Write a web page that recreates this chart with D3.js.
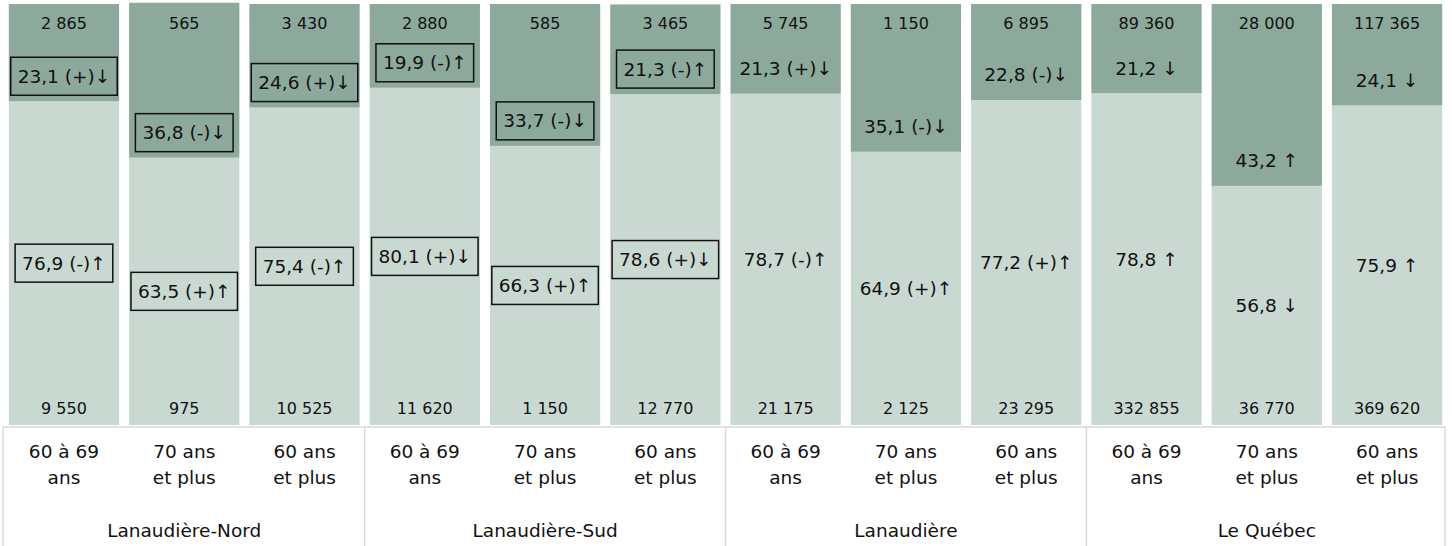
<!DOCTYPE html>
<html lang="fr">
<head>
    <meta charset="UTF-8">
    <title>Graphique</title>
    <script src="https://d3js.org/d3.v7.min.js"></script>
    <style>
        body, html {
            margin: 0;
            padding: 0;
            background: white;
        }
        svg text {
            font-family: "DejaVu Sans", sans-serif;
            fill: #111;
        }
    </style>
</head>
<body>
    <script>
        'use strict'

        // data
        const ageGroups = ['60 à 69|ans', '70 ans|et plus', '60 ans|et plus']
        const regions = ['Lanaudière-Nord', 'Lanaudière-Sud', 'Lanaudière', 'Le Québec']

        const countsTop = [2865, 565, 3430, 2880, 585, 3465, 5745, 1150, 6895, 89360, 28000, 117365]
        const countsBottom = [9550, 975, 10525, 11620, 1150, 12770, 21175, 2125, 23295, 332855, 36770, 369620]

        const pctTop = [23.1, 36.8, 24.6, 19.9, 33.7, 21.3, 21.3, 35.1, 22.8, 21.2, 43.2, 24.1]
        const pctBottom = [76.9, 63.5, 75.4, 80.1, 66.3, 78.6, 78.7, 64.9, 77.2, 78.8, 56.8, 75.9]

        const markTop = [' (+)↓', ' (-)↓', ' (+)↓', ' (-)↑', ' (-)↓', ' (-)↑', ' (+)↓', ' (-)↓', ' (-)↓', ' ↓', ' ↑', ' ↓']
        const markBottom = [' (-)↑', ' (+)↑', ' (-)↑', ' (+)↓', ' (+)↑', ' (+)↓', ' (-)↑', ' (+)↑', ' (+)↑', ' ↑', ' ↓', ' ↑']

        // the two sub-regions are framed
        const framed = [true, true, true, true, true, true, false, false, false, false, false, false]

        const W = 1452, H = 546
        const darkColor = '#8ca99b'
        const lightColor = '#c9d9d2'
        const gridColor = '#d9d9d9'

        const rows = countsTop.map((d, i) => ({
            i,
            bottom: pctBottom[i],
            top: pctTop[i]
        }))

        const fmtNum = d3.formatLocale({decimal: ',', thousands: ' ', grouping: [3], currency: ['', '']}).format(',d')
        const fmtPct = v => v.toFixed(1).replace('.', ',')

        const svg = d3.select('body')
            .append('svg')
            .attr('width', W)
            .attr('height', H)

        const x = d3.scaleBand()
            .domain(rows.map(d => d.i))
            .range([4, 1447])
            .paddingInner(0.083)
            .paddingOuter(0.04)

        const y = d3.scaleLinear()
            .domain([0, 100])
            .range([425, 4])

        const stack = d3.stack().keys(['bottom', 'top'])
        const series = stack(rows)
        const colors = [lightColor, darkColor]

        svg.append('g')
            .selectAll('g')
            .data(series)
            .enter()
            .append('g')
            .attr('fill', (d, k) => colors[k])
            .selectAll('rect')
            .data(d => d)
            .enter()
            .append('rect')
            .attr('x', d => x(d.data.i))
            .attr('width', x.bandwidth())
            .attr('y', d => y(d[1]))
            .attr('height', d => y(d[0]) - y(d[1]))

        const cx = i => x(i) + x.bandwidth() / 2

        // counts
        svg.append('g')
            .selectAll('text')
            .data(countsTop)
            .enter()
            .append('text')
            .attr('x', (d, i) => cx(i))
            .attr('y', 23)
            .attr('dy', '0.35em')
            .attr('text-anchor', 'middle')
            .style('font-size', '16px')
            .text(d => fmtNum(d))

        svg.append('g')
            .selectAll('text')
            .data(countsBottom)
            .enter()
            .append('text')
            .attr('x', (d, i) => cx(i))
            .attr('y', 408)
            .attr('dy', '0.35em')
            .attr('text-anchor', 'middle')
            .style('font-size', '16px')
            .text(d => fmtNum(d))

        // percentage labels: top one sits just above the split, bottom one centred
        const labels = []
        rows.forEach((d, i) => {
            const edge = y(d.bottom)
            labels.push({i, y: edge - 25, text: fmtPct(d.top) + markTop[i]})
            labels.push({i, y: (edge + y(0)) / 2, text: fmtPct(d.bottom) + markBottom[i]})
        })

        const lab = svg.append('g')
            .selectAll('g')
            .data(labels)
            .enter()
            .append('g')

        lab.append('text')
            .attr('x', d => cx(d.i))
            .attr('y', d => d.y)
            .attr('dy', '0.35em')
            .attr('text-anchor', 'middle')
            .style('font-size', '18.5px')
            .text(d => d.text)

        lab.filter(d => framed[d.i])
            .insert('rect', 'text')
            .each(function(d) {
                const box = this.parentNode.querySelector('text').getBBox()
                d3.select(this)
                    .attr('x', box.x - 7)
                    .attr('y', d.y - 19)
                    .attr('width', box.width + 14)
                    .attr('height', 38)
            })
            .attr('fill', 'none')
            .attr('stroke', '#111')
            .attr('stroke-width', 1.5)

        // table under the bars
        const step = x.step()
        const half = step * x.paddingInner() / 2
        const left = 3, right = 1445, tableTop = 427

        const table = svg.append('g')
            .attr('stroke', gridColor)
            .attr('stroke-width', 1.5)

        table.append('line')
            .attr('x1', left).attr('x2', right)
            .attr('y1', tableTop).attr('y2', tableTop)

        const sepX = [left]
        for (let g = 1; g < regions.length; g++) sepX.push(x(g * 3) - half)
        sepX.push(right)

        table.selectAll('.sep')
            .data(sepX)
            .enter()
            .append('line')
            .attr('class', 'sep')
            .attr('x1', d => d).attr('x2', d => d)
            .attr('y1', tableTop).attr('y2', H)

        const cat = svg.append('g')
            .selectAll('text')
            .data(rows)
            .enter()
            .append('text')
            .attr('text-anchor', 'middle')
            .style('font-size', '18.5px')

        cat.selectAll('tspan')
            .data(d => ageGroups[d.i % 3].split('|').map(t => ({t, i: d.i})))
            .enter()
            .append('tspan')
            .attr('x', d => cx(d.i))
            .attr('y', (d, k) => 452 + k * 26)
            .attr('dy', '0.35em')
            .text(d => d.t)

        svg.append('g')
            .selectAll('text')
            .data(regions)
            .enter()
            .append('text')
            .attr('x', (d, g) => cx(g * 3 + 1))
            .attr('y', 531)
            .attr('dy', '0.35em')
            .attr('text-anchor', 'middle')
            .style('font-size', '18.5px')
            .text(d => d)
    </script>
</body>
</html>
